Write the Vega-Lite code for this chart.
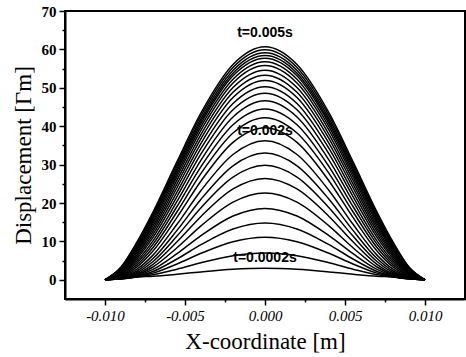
{
"$schema": "https://vega.github.io/schema/vega-lite/v6.json",
"width": 400, "height": 288,
"autosize": {"type": "none"},
"padding": {"left": 65, "top": 11, "right": 1, "bottom": 58},
"background": "white",
"config": {"view": {"stroke": "black", "strokeWidth": 2}},
"resolve": {"axis": {"x": "independent", "y": "independent"}},
"datasets": {
"curves": [
{"c":1,"x":-0.01,"y":0},{"c":1,"x":-0.009,"y":0.25},{"c":1,"x":-0.008,"y":0.71},{"c":1,"x":-0.007,"y":0.92},{"c":1,"x":-0.0055,"y":1.45},{"c":1,"x":-0.004,"y":2.06},{"c":1,"x":-0.002,"y":2.74},{"c":1,"x":0,"y":3.0},{"c":1,"x":0.002,"y":2.74},{"c":1,"x":0.004,"y":2.06},{"c":1,"x":0.0055,"y":1.45},{"c":1,"x":0.007,"y":0.92},{"c":1,"x":0.008,"y":0.71},{"c":1,"x":0.009,"y":0.25},{"c":1,"x":0.01,"y":0},
{"c":2,"x":-0.01,"y":0},{"c":2,"x":-0.009,"y":0.25},{"c":2,"x":-0.008,"y":0.75},{"c":2,"x":-0.007,"y":1.31},{"c":2,"x":-0.0055,"y":2.76},{"c":2,"x":-0.004,"y":4.44},{"c":2,"x":-0.002,"y":6.29},{"c":2,"x":0,"y":7.0},{"c":2,"x":0.002,"y":6.29},{"c":2,"x":0.004,"y":4.44},{"c":2,"x":0.0055,"y":2.76},{"c":2,"x":0.007,"y":1.31},{"c":2,"x":0.008,"y":0.75},{"c":2,"x":0.009,"y":0.25},{"c":2,"x":0.01,"y":0},
{"c":3,"x":-0.01,"y":0},{"c":3,"x":-0.009,"y":0.27},{"c":3,"x":-0.008,"y":0.81},{"c":3,"x":-0.007,"y":1.74},{"c":3,"x":-0.0055,"y":4.13},{"c":3,"x":-0.004,"y":6.90},{"c":3,"x":-0.002,"y":9.93},{"c":3,"x":0,"y":11.1},{"c":3,"x":0.002,"y":9.93},{"c":3,"x":0.004,"y":6.90},{"c":3,"x":0.0055,"y":4.13},{"c":3,"x":0.007,"y":1.74},{"c":3,"x":0.008,"y":0.81},{"c":3,"x":0.009,"y":0.27},{"c":3,"x":0.01,"y":0},
{"c":4,"x":-0.01,"y":0},{"c":4,"x":-0.009,"y":0.29},{"c":4,"x":-0.008,"y":0.90},{"c":4,"x":-0.007,"y":2.18},{"c":4,"x":-0.0055,"y":5.42},{"c":4,"x":-0.004,"y":9.15},{"c":4,"x":-0.002,"y":13.23},{"c":4,"x":0,"y":14.8},{"c":4,"x":0.002,"y":13.23},{"c":4,"x":0.004,"y":9.15},{"c":4,"x":0.0055,"y":5.42},{"c":4,"x":0.007,"y":2.18},{"c":4,"x":0.008,"y":0.90},{"c":4,"x":0.009,"y":0.29},{"c":4,"x":0.01,"y":0},
{"c":5,"x":-0.01,"y":0},{"c":5,"x":-0.009,"y":0.34},{"c":5,"x":-0.008,"y":1.05},{"c":5,"x":-0.007,"y":2.70},{"c":5,"x":-0.0055,"y":6.80},{"c":5,"x":-0.004,"y":11.50},{"c":5,"x":-0.002,"y":16.63},{"c":5,"x":0,"y":18.6},{"c":5,"x":0.002,"y":16.63},{"c":5,"x":0.004,"y":11.50},{"c":5,"x":0.0055,"y":6.80},{"c":5,"x":0.007,"y":2.70},{"c":5,"x":0.008,"y":1.05},{"c":5,"x":0.009,"y":0.34},{"c":5,"x":0.01,"y":0},
{"c":6,"x":-0.01,"y":0},{"c":6,"x":-0.009,"y":0.41},{"c":6,"x":-0.008,"y":1.27},{"c":6,"x":-0.007,"y":3.33},{"c":6,"x":-0.0055,"y":8.34},{"c":6,"x":-0.004,"y":14.03},{"c":6,"x":-0.002,"y":20.23},{"c":6,"x":0,"y":22.6},{"c":6,"x":0.002,"y":20.23},{"c":6,"x":0.004,"y":14.03},{"c":6,"x":0.0055,"y":8.34},{"c":6,"x":0.007,"y":3.33},{"c":6,"x":0.008,"y":1.27},{"c":6,"x":0.009,"y":0.41},{"c":6,"x":0.01,"y":0},
{"c":7,"x":-0.01,"y":0},{"c":7,"x":-0.009,"y":0.50},{"c":7,"x":-0.008,"y":1.56},{"c":7,"x":-0.007,"y":4.04},{"c":7,"x":-0.0055,"y":9.89},{"c":7,"x":-0.004,"y":16.50},{"c":7,"x":-0.002,"y":23.66},{"c":7,"x":0,"y":26.4},{"c":7,"x":0.002,"y":23.66},{"c":7,"x":0.004,"y":16.50},{"c":7,"x":0.0055,"y":9.89},{"c":7,"x":0.007,"y":4.04},{"c":7,"x":0.008,"y":1.56},{"c":7,"x":0.009,"y":0.50},{"c":7,"x":0.01,"y":0},
{"c":8,"x":-0.01,"y":0},{"c":8,"x":-0.009,"y":0.61},{"c":8,"x":-0.008,"y":1.90},{"c":8,"x":-0.007,"y":4.76},{"c":8,"x":-0.0055,"y":11.38},{"c":8,"x":-0.004,"y":18.78},{"c":8,"x":-0.002,"y":26.75},{"c":8,"x":0,"y":29.8},{"c":8,"x":0.002,"y":26.75},{"c":8,"x":0.004,"y":18.78},{"c":8,"x":0.0055,"y":11.38},{"c":8,"x":0.007,"y":4.76},{"c":8,"x":0.008,"y":1.90},{"c":8,"x":0.009,"y":0.61},{"c":8,"x":0.01,"y":0},
{"c":9,"x":-0.01,"y":0},{"c":9,"x":-0.009,"y":0.74},{"c":9,"x":-0.008,"y":2.29},{"c":9,"x":-0.007,"y":5.55},{"c":9,"x":-0.0055,"y":12.87},{"c":9,"x":-0.004,"y":20.98},{"c":9,"x":-0.002,"y":29.68},{"c":9,"x":0,"y":33.0},{"c":9,"x":0.002,"y":29.68},{"c":9,"x":0.004,"y":20.98},{"c":9,"x":0.0055,"y":12.87},{"c":9,"x":0.007,"y":5.55},{"c":9,"x":0.008,"y":2.29},{"c":9,"x":0.009,"y":0.74},{"c":9,"x":0.01,"y":0},
{"c":10,"x":-0.01,"y":0},{"c":10,"x":-0.009,"y":0.90},{"c":10,"x":-0.008,"y":2.76},{"c":10,"x":-0.007,"y":6.43},{"c":10,"x":-0.0055,"y":14.45},{"c":10,"x":-0.004,"y":23.25},{"c":10,"x":-0.002,"y":32.63},{"c":10,"x":0,"y":36.2},{"c":10,"x":0.002,"y":32.63},{"c":10,"x":0.004,"y":23.25},{"c":10,"x":0.0055,"y":14.45},{"c":10,"x":0.007,"y":6.43},{"c":10,"x":0.008,"y":2.76},{"c":10,"x":0.009,"y":0.90},{"c":10,"x":0.01,"y":0},
{"c":11,"x":-0.01,"y":0},{"c":11,"x":-0.009,"y":1.10},{"c":11,"x":-0.008,"y":3.36},{"c":11,"x":-0.007,"y":7.50},{"c":11,"x":-0.0055,"y":16.26},{"c":11,"x":-0.004,"y":25.74},{"c":11,"x":-0.002,"y":35.79},{"c":11,"x":0,"y":39.6},{"c":11,"x":0.002,"y":35.79},{"c":11,"x":0.004,"y":25.74},{"c":11,"x":0.0055,"y":16.26},{"c":11,"x":0.007,"y":7.50},{"c":11,"x":0.008,"y":3.36},{"c":11,"x":0.009,"y":1.10},{"c":11,"x":0.01,"y":0},
{"c":12,"x":-0.01,"y":0},{"c":12,"x":-0.009,"y":1.28},{"c":12,"x":-0.008,"y":3.90},{"c":12,"x":-0.007,"y":8.41},{"c":12,"x":-0.0055,"y":17.72},{"c":12,"x":-0.004,"y":27.70},{"c":12,"x":-0.002,"y":38.22},{"c":12,"x":0,"y":42.2},{"c":12,"x":0.002,"y":38.22},{"c":12,"x":0.004,"y":27.70},{"c":12,"x":0.0055,"y":17.72},{"c":12,"x":0.007,"y":8.41},{"c":12,"x":0.008,"y":3.90},{"c":12,"x":0.009,"y":1.28},{"c":12,"x":0.01,"y":0},
{"c":13,"x":-0.01,"y":0},{"c":13,"x":-0.009,"y":1.46},{"c":13,"x":-0.008,"y":4.43},{"c":13,"x":-0.007,"y":9.28},{"c":13,"x":-0.0055,"y":19.09},{"c":13,"x":-0.004,"y":29.49},{"c":13,"x":-0.002,"y":40.39},{"c":13,"x":0,"y":44.5},{"c":13,"x":0.002,"y":40.39},{"c":13,"x":0.004,"y":29.49},{"c":13,"x":0.0055,"y":19.09},{"c":13,"x":0.007,"y":9.28},{"c":13,"x":0.008,"y":4.43},{"c":13,"x":0.009,"y":1.46},{"c":13,"x":0.01,"y":0},
{"c":14,"x":-0.01,"y":0},{"c":14,"x":-0.009,"y":1.65},{"c":14,"x":-0.008,"y":4.96},{"c":14,"x":-0.007,"y":10.15},{"c":14,"x":-0.0055,"y":20.40},{"c":14,"x":-0.004,"y":31.16},{"c":14,"x":-0.002,"y":42.38},{"c":14,"x":0,"y":46.6},{"c":14,"x":0.002,"y":42.38},{"c":14,"x":0.004,"y":31.16},{"c":14,"x":0.0055,"y":20.40},{"c":14,"x":0.007,"y":10.15},{"c":14,"x":0.008,"y":4.96},{"c":14,"x":0.009,"y":1.65},{"c":14,"x":0.01,"y":0},
{"c":15,"x":-0.01,"y":0},{"c":15,"x":-0.009,"y":1.84},{"c":15,"x":-0.008,"y":5.51},{"c":15,"x":-0.007,"y":11.03},{"c":15,"x":-0.0055,"y":21.69},{"c":15,"x":-0.004,"y":32.78},{"c":15,"x":-0.002,"y":44.29},{"c":15,"x":0,"y":48.6},{"c":15,"x":0.002,"y":44.29},{"c":15,"x":0.004,"y":32.78},{"c":15,"x":0.0055,"y":21.69},{"c":15,"x":0.007,"y":11.03},{"c":15,"x":0.008,"y":5.51},{"c":15,"x":0.009,"y":1.84},{"c":15,"x":0.01,"y":0},
{"c":16,"x":-0.01,"y":0},{"c":16,"x":-0.009,"y":2.01},{"c":16,"x":-0.008,"y":6.02},{"c":16,"x":-0.007,"y":11.83},{"c":16,"x":-0.0055,"y":22.85},{"c":16,"x":-0.004,"y":34.20},{"c":16,"x":-0.002,"y":45.92},{"c":16,"x":0,"y":50.3},{"c":16,"x":0.002,"y":45.92},{"c":16,"x":0.004,"y":34.20},{"c":16,"x":0.0055,"y":22.85},{"c":16,"x":0.007,"y":11.83},{"c":16,"x":0.008,"y":6.02},{"c":16,"x":0.009,"y":2.01},{"c":16,"x":0.01,"y":0},
{"c":17,"x":-0.01,"y":0},{"c":17,"x":-0.009,"y":2.18},{"c":17,"x":-0.008,"y":6.53},{"c":17,"x":-0.007,"y":12.62},{"c":17,"x":-0.0055,"y":23.97},{"c":17,"x":-0.004,"y":35.55},{"c":17,"x":-0.002,"y":47.46},{"c":17,"x":0,"y":51.9},{"c":17,"x":0.002,"y":47.46},{"c":17,"x":0.004,"y":35.55},{"c":17,"x":0.0055,"y":23.97},{"c":17,"x":0.007,"y":12.62},{"c":17,"x":0.008,"y":6.53},{"c":17,"x":0.009,"y":2.18},{"c":17,"x":0.01,"y":0},
{"c":18,"x":-0.01,"y":0},{"c":18,"x":-0.009,"y":2.35},{"c":18,"x":-0.008,"y":7.00},{"c":18,"x":-0.007,"y":13.35},{"c":18,"x":-0.0055,"y":24.97},{"c":18,"x":-0.004,"y":36.76},{"c":18,"x":-0.002,"y":48.82},{"c":18,"x":0,"y":53.3},{"c":18,"x":0.002,"y":48.82},{"c":18,"x":0.004,"y":36.76},{"c":18,"x":0.0055,"y":24.97},{"c":18,"x":0.007,"y":13.35},{"c":18,"x":0.008,"y":7.00},{"c":18,"x":0.009,"y":2.35},{"c":18,"x":0.01,"y":0},
{"c":19,"x":-0.01,"y":0},{"c":19,"x":-0.009,"y":2.51},{"c":19,"x":-0.008,"y":7.46},{"c":19,"x":-0.007,"y":14.05},{"c":19,"x":-0.0055,"y":25.94},{"c":19,"x":-0.004,"y":37.90},{"c":19,"x":-0.002,"y":50.08},{"c":19,"x":0,"y":54.6},{"c":19,"x":0.002,"y":50.08},{"c":19,"x":0.004,"y":37.90},{"c":19,"x":0.0055,"y":25.94},{"c":19,"x":0.007,"y":14.05},{"c":19,"x":0.008,"y":7.46},{"c":19,"x":0.009,"y":2.51},{"c":19,"x":0.01,"y":0},
{"c":20,"x":-0.01,"y":0},{"c":20,"x":-0.009,"y":2.66},{"c":20,"x":-0.008,"y":7.90},{"c":20,"x":-0.007,"y":14.72},{"c":20,"x":-0.0055,"y":26.86},{"c":20,"x":-0.004,"y":38.97},{"c":20,"x":-0.002,"y":51.25},{"c":20,"x":0,"y":55.8},{"c":20,"x":0.002,"y":51.25},{"c":20,"x":0.004,"y":38.97},{"c":20,"x":0.0055,"y":26.86},{"c":20,"x":0.007,"y":14.72},{"c":20,"x":0.008,"y":7.90},{"c":20,"x":0.009,"y":2.66},{"c":20,"x":0.01,"y":0},
{"c":21,"x":-0.01,"y":0},{"c":21,"x":-0.009,"y":2.79},{"c":21,"x":-0.008,"y":8.28},{"c":21,"x":-0.007,"y":15.30},{"c":21,"x":-0.0055,"y":27.64},{"c":21,"x":-0.004,"y":39.87},{"c":21,"x":-0.002,"y":52.23},{"c":21,"x":0,"y":56.8},{"c":21,"x":0.002,"y":52.23},{"c":21,"x":0.004,"y":39.87},{"c":21,"x":0.0055,"y":27.64},{"c":21,"x":0.007,"y":15.30},{"c":21,"x":0.008,"y":8.28},{"c":21,"x":0.009,"y":2.79},{"c":21,"x":0.01,"y":0},
{"c":22,"x":-0.01,"y":0},{"c":22,"x":-0.009,"y":2.91},{"c":22,"x":-0.008,"y":8.65},{"c":22,"x":-0.007,"y":15.84},{"c":22,"x":-0.0055,"y":28.36},{"c":22,"x":-0.004,"y":40.69},{"c":22,"x":-0.002,"y":53.12},{"c":22,"x":0,"y":57.7},{"c":22,"x":0.002,"y":53.12},{"c":22,"x":0.004,"y":40.69},{"c":22,"x":0.0055,"y":28.36},{"c":22,"x":0.007,"y":15.84},{"c":22,"x":0.008,"y":8.65},{"c":22,"x":0.009,"y":2.91},{"c":22,"x":0.01,"y":0},
{"c":23,"x":-0.01,"y":0},{"c":23,"x":-0.009,"y":3.01},{"c":23,"x":-0.008,"y":8.93},{"c":23,"x":-0.007,"y":16.27},{"c":23,"x":-0.0055,"y":28.92},{"c":23,"x":-0.004,"y":41.34},{"c":23,"x":-0.002,"y":53.81},{"c":23,"x":0,"y":58.4},{"c":23,"x":0.002,"y":53.81},{"c":23,"x":0.004,"y":41.34},{"c":23,"x":0.0055,"y":28.92},{"c":23,"x":0.007,"y":16.27},{"c":23,"x":0.008,"y":8.93},{"c":23,"x":0.009,"y":3.01},{"c":23,"x":0.01,"y":0},
{"c":24,"x":-0.01,"y":0},{"c":24,"x":-0.009,"y":3.11},{"c":24,"x":-0.008,"y":9.23},{"c":24,"x":-0.007,"y":16.71},{"c":24,"x":-0.0055,"y":29.50},{"c":24,"x":-0.004,"y":41.99},{"c":24,"x":-0.002,"y":54.50},{"c":24,"x":0,"y":59.1},{"c":24,"x":0.002,"y":54.50},{"c":24,"x":0.004,"y":41.99},{"c":24,"x":0.0055,"y":29.50},{"c":24,"x":0.007,"y":16.71},{"c":24,"x":0.008,"y":9.23},{"c":24,"x":0.009,"y":3.11},{"c":24,"x":0.01,"y":0},
{"c":25,"x":-0.01,"y":0},{"c":25,"x":-0.009,"y":3.23},{"c":25,"x":-0.008,"y":9.57},{"c":25,"x":-0.007,"y":17.22},{"c":25,"x":-0.0055,"y":30.16},{"c":25,"x":-0.004,"y":42.74},{"c":25,"x":-0.002,"y":55.29},{"c":25,"x":0,"y":59.9},{"c":25,"x":0.002,"y":55.29},{"c":25,"x":0.004,"y":42.74},{"c":25,"x":0.0055,"y":30.16},{"c":25,"x":0.007,"y":17.22},{"c":25,"x":0.008,"y":9.57},{"c":25,"x":0.009,"y":3.23},{"c":25,"x":0.01,"y":0},
{"c":26,"x":-0.01,"y":0},{"c":26,"x":-0.009,"y":3.33},{"c":26,"x":-0.008,"y":9.86},{"c":26,"x":-0.007,"y":17.66},{"c":26,"x":-0.0055,"y":30.77},{"c":26,"x":-0.004,"y":43.45},{"c":26,"x":-0.002,"y":56.07},{"c":26,"x":0,"y":60.7},{"c":26,"x":0.002,"y":56.07},{"c":26,"x":0.004,"y":43.45},{"c":26,"x":0.0055,"y":30.77},{"c":26,"x":0.007,"y":17.66},{"c":26,"x":0.008,"y":9.86},{"c":26,"x":0.009,"y":3.33},{"c":26,"x":0.01,"y":0}
],
"labels": [
{"x":0,"y":64.3,"label":"t=0.005s"},
{"x":0,"y":38.8,"label":"t=0.002s"},
{"x":0,"y":5.6,"label":"t=0.0002s"}
]
},
"layer": [
{
"data": {"name": "curves"},
"mark": {"type": "line", "interpolate": "monotone", "color": "black", "strokeWidth": 1.5, "clip": true},
"encoding": {
"x": {"field": "x", "type": "quantitative",
"scale": {"domain": [-0.0125, 0.0125], "nice": false, "zero": false},
"axis": {"title": "X-coordinate [m]", "orient": "bottom",
"values": [-0.01, -0.005, 0, 0.005, 0.01],
"labelExpr": "replace(format(datum.value, '.3f'), '\u2212', '-')",
"tickSize": 6,
"grid": false, "domainColor": "black", "domainWidth": 2, "tickColor": "black", "tickWidth": 1.5,
"labelFont": "Liberation Serif", "labelFontStyle": "italic", "labelFontSize": 15, "labelColor": "black",
"labelPadding": 3, "labelOverlap": false, "labelFlush": false,
"titleFont": "Liberation Serif", "titleFontSize": 23, "titleFontWeight": "normal", "titleColor": "black", "titlePadding": 7}
},
"y": {"field": "y", "type": "quantitative",
"scale": {"domain": [-5, 70], "nice": false, "zero": false},
"axis": {"title": "Displacement [Γm]", "orient": "left",
"values": [0, 10, 20, 30, 40, 50, 60, 70],
"tickSize": 6,
"grid": false, "domainColor": "black", "domainWidth": 2, "tickColor": "black", "tickWidth": 1.5,
"labelFont": "Liberation Serif", "labelFontWeight": "bold", "labelFontSize": 15, "labelColor": "black",
"labelPadding": 3, "labelOverlap": false, "labelFlush": false,
"titleFont": "Liberation Serif", "titleFontSize": 23, "titleFontWeight": "normal", "titleColor": "black", "titlePadding": 6}
},
"detail": {"field": "c", "type": "nominal"}
}
},
{
"data": {"name": "labels"},
"mark": {"type": "text", "font": "Liberation Sans", "fontSize": 14, "fontWeight": "bold", "color": "black", "baseline": "middle", "align": "center"},
"encoding": {
"x": {"field": "x", "type": "quantitative",
"scale": {"domain": [-0.0125, 0.0125], "nice": false, "zero": false},
"axis": {"orient": "bottom", "title": null, "labels": false, "domain": false, "grid": false,
"values": [-0.0075, -0.0025, 0.0025, 0.0075], "tickSize": 3, "tickColor": "black", "tickWidth": 1.5}},
"y": {"field": "y", "type": "quantitative",
"scale": {"domain": [-5, 70], "nice": false, "zero": false},
"axis": {"orient": "left", "title": null, "labels": false, "domain": false, "grid": false,
"values": [5, 15, 25, 35, 45, 55, 65], "tickSize": 3, "tickColor": "black", "tickWidth": 1.5}},
"text": {"field": "label"}
}
}
]
}
